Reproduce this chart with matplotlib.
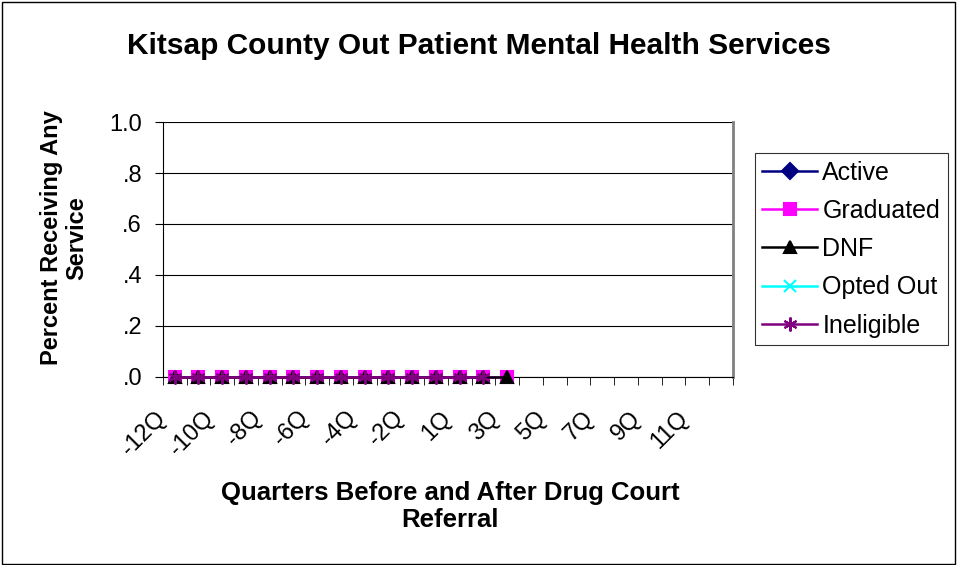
import matplotlib.pyplot as plt
from matplotlib.patches import Rectangle
from matplotlib.transforms import ScaledTranslation

plt.rcParams['font.family'] = ['Liberation Sans', 'DejaVu Sans']

# categories: -12Q..-1Q, 1Q..12Q
quarters = [f'{q}Q' for q in range(-12, 0)] + [f'{q}Q' for q in range(1, 13)]
labels = [q if i % 2 == 0 else '' for i, q in enumerate(quarters)]

# no visible points for Active / Opted Out in the picture
active = []
graduated = [0.0] * 15
dnf = [0.0] * 15
opted_out = []
ineligible = [0.0] * 14

series = [
    ('Active', active, '#000080', 'D', 8),
    ('Graduated', graduated, '#FF00FF', 's', 9),
    ('DNF', dnf, '#000000', '^', 9),
    ('Opted Out', opted_out, '#00FFFF', 'x', 9),
    ('Ineligible', ineligible, '#800080', (6, 2, 0), 10),
]

fig = plt.figure(figsize=(9.58, 5.65), dpi=100)
ax = fig.add_axes([0.170, 0.333, 0.595, 0.451])

for name, vals, col, mk, ms in series:
    ax.plot(range(len(vals)), vals, color=col, marker=mk, markersize=ms,
            markerfacecolor=col, markeredgecolor=col, linewidth=1.8,
            markeredgewidth=1.5, label=name, clip_on=False, zorder=3)

ax.set_xlim(-0.5, len(quarters) - 0.5)
ax.set_ylim(0, 1.0)
ax.set_yticks([0, 0.2, 0.4, 0.6, 0.8, 1.0])
ax.set_yticklabels(['.0', '.2', '.4', '.6', '.8', '1.0'], fontsize=17)
ax.set_xticks([i - 0.5 for i in range(len(quarters) + 1)], minor=True)
ax.set_xticks(range(len(quarters)))
ax.set_xticklabels([])
# rotated category labels, Excel-like offset below the axis
lab_trans = ax.get_xaxis_transform() + ScaledTranslation(-0.12, -0.38, fig.dpi_scale_trans)
for i, lab in enumerate(labels):
    ax.text(i, 0, lab, transform=lab_trans, rotation=45, ha='right',
            va='center', rotation_mode='anchor', fontsize=17, clip_on=False)
ax.tick_params(axis='x', which='major', length=0)
ax.tick_params(axis='x', which='minor', length=6, direction='out', color='black')
ax.tick_params(axis='y', length=6, direction='out', color='black', pad=9)
ax.grid(axis='y', color='black', linewidth=0.8)
ax.set_axisbelow(True)
ax.spines['right'].set_color('#808080')
ax.spines['right'].set_linewidth(2)
ax.spines['top'].set_visible(False)
ax.spines['left'].set_color('black')
ax.spines['bottom'].set_color('black')

fig.text(0.50, 0.918, 'Kitsap County Out Patient Mental Health Services',
         ha='center', va='center', fontsize=21.5, fontweight='bold')
fig.text(0.067, 0.579, 'Percent Receiving Any\nService', rotation=90,
         ha='center', va='center', fontsize=17, fontweight='bold',
         linespacing=1.1)
fig.text(0.47, 0.104, 'Quarters Before and After Drug Court\nReferral',
         ha='center', va='center', fontsize=18.5, fontweight='bold',
         linespacing=1.15)

leg = fig.legend(loc='upper left', bbox_to_anchor=(0.788, 0.729),
                 fontsize=18, frameon=True, fancybox=False, edgecolor='black',
                 handlelength=2.2, handletextpad=0.2, labelspacing=0.57,
                 borderpad=0.3, borderaxespad=0)
leg.get_frame().set_linewidth(0.8)

fig.patches.append(Rectangle((0.002, 0.002), 0.995, 0.995,
                             transform=fig.transFigure, fill=False,
                             edgecolor='black', linewidth=1))

fig.savefig('out.png', dpi=100)
